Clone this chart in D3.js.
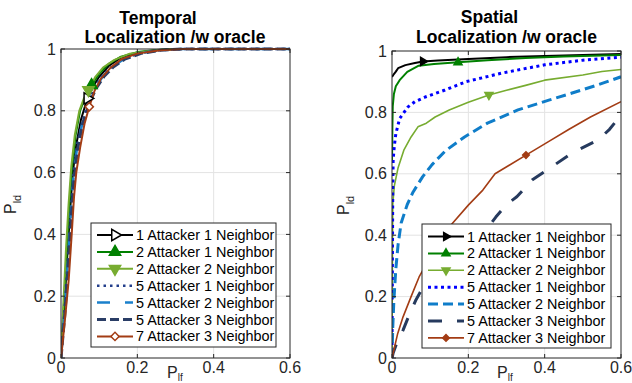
<!DOCTYPE html>
<html>
<head>
<meta charset="utf-8">
<script src="https://cdn.jsdelivr.net/npm/d3@7"></script>
<style>
  body { margin: 0; background: #fff; }
  svg { font-family: "Liberation Sans", Arial, sans-serif; }
</style>
</head>
<body>
<svg id="chart" width="632" height="383"></svg>
<script>
// ---- data ----
var xTicks = [0, 0.2, 0.4, 0.6];
var yTicks = [0, 0.2, 0.4, 0.6, 0.8, 1];
var yTickLabels = ["0", "0.2", "0.4", "0.6", "0.8", "1"];
var legendLabels = ["1 Attacker 1 Neighbor", "2 Attacker 1 Neighbor", "2 Attacker 2 Neighbor",
    "5 Attacker 1 Neighbor", "5 Attacker 2 Neighbor", "5 Attacker 3 Neighbor", "7 Attacker 3 Neighbor"];

// Temporal localization
var tempA1N1 = [[0,0],[0.008,0.15],[0.016,0.32],[0.024,0.48],[0.031,0.6],[0.04,0.69],[0.052,0.77],[0.069,0.84],[0.085,0.88],[0.1,0.91],[0.125,0.945],[0.155,0.97],[0.2,0.988],[0.25,0.996],[0.3,1],[0.6,1]];
var tempA2N1 = [[0,0],[0.007,0.16],[0.015,0.34],[0.022,0.5],[0.029,0.62],[0.038,0.72],[0.05,0.8],[0.065,0.85],[0.08,0.883],[0.1,0.92],[0.125,0.952],[0.155,0.974],[0.2,0.99],[0.25,0.997],[0.3,1],[0.6,1]];
var tempA2N2 = [[0,0],[0.006,0.17],[0.013,0.35],[0.02,0.5],[0.027,0.62],[0.036,0.72],[0.048,0.8],[0.06,0.84],[0.072,0.867],[0.09,0.91],[0.11,0.94],[0.14,0.965],[0.18,0.985],[0.25,0.997],[0.3,1],[0.6,1]];
var tempA5N1 = [[0,0],[0.009,0.15],[0.018,0.32],[0.026,0.48],[0.033,0.6],[0.042,0.69],[0.055,0.76],[0.072,0.83],[0.09,0.88],[0.11,0.915],[0.135,0.945],[0.165,0.97],[0.21,0.988],[0.26,0.996],[0.32,1],[0.6,1]];
var tempA5N2 = [[0,0],[0.009,0.14],[0.018,0.31],[0.026,0.47],[0.033,0.59],[0.043,0.69],[0.056,0.76],[0.073,0.83],[0.09,0.875],[0.11,0.912],[0.135,0.943],[0.165,0.968],[0.21,0.987],[0.26,0.996],[0.32,1],[0.6,1]];
var tempA5N3 = [[0,0],[0.01,0.14],[0.019,0.3],[0.027,0.46],[0.034,0.58],[0.044,0.68],[0.057,0.76],[0.074,0.825],[0.092,0.872],[0.112,0.91],[0.137,0.942],[0.167,0.967],[0.21,0.986],[0.26,0.996],[0.32,1],[0.6,1]];
var tempA7N3 = [[0,0],[0.01,0.12],[0.02,0.25],[0.028,0.4],[0.034,0.52],[0.04,0.6],[0.05,0.68],[0.062,0.76],[0.074,0.813],[0.088,0.865],[0.105,0.905],[0.13,0.94],[0.16,0.968],[0.2,0.985],[0.26,0.996],[0.32,1],[0.6,1]];
var tempMarkers = [[0.069,0.84],[0.08,0.883],[0.072,0.867],null,null,null,[0.074,0.813]];

// Spatial localization
var spatA1N1 = [[0,0.915],[0.005,0.925],[0.01,0.933],[0.016,0.944],[0.035,0.954],[0.06,0.961],[0.081,0.966],[0.12,0.969],[0.2,0.974],[0.3,0.98],[0.4,0.984],[0.5,0.987],[0.6,0.99]];
var spatA2N1 = [[0,0.635],[0.001,0.75],[0.002,0.82],[0.005,0.86],[0.01,0.885],[0.02,0.905],[0.04,0.932],[0.07,0.952],[0.11,0.958],[0.173,0.963],[0.25,0.97],[0.35,0.977],[0.45,0.982],[0.6,0.987]];
var spatA2N2 = [[0,0],[0.001,0.3],[0.002,0.5],[0.006,0.56],[0.016,0.62],[0.031,0.677],[0.05,0.72],[0.068,0.753],[0.09,0.765],[0.113,0.785],[0.15,0.808],[0.2,0.833],[0.254,0.857],[0.3,0.872],[0.35,0.888],[0.4,0.905],[0.5,0.922],[0.55,0.933],[0.6,0.94]];
var spatA5N1 = [[0,0],[0.001,0.3],[0.002,0.55],[0.003,0.645],[0.006,0.69],[0.01,0.73],[0.02,0.78],[0.042,0.818],[0.06,0.835],[0.089,0.851],[0.139,0.873],[0.194,0.9],[0.288,0.928],[0.4,0.955],[0.5,0.97],[0.6,0.98]];
var spatA5N2 = [[0,0],[0.002,0.1],[0.005,0.19],[0.01,0.29],[0.016,0.37],[0.024,0.44],[0.04,0.5],[0.055,0.54],[0.08,0.59],[0.105,0.63],[0.14,0.675],[0.19,0.72],[0.25,0.765],[0.33,0.808],[0.411,0.84],[0.472,0.863],[0.54,0.89],[0.6,0.916]];
var spatA5N3 = [[0,0],[0.003,0.016],[0.01,0.04],[0.029,0.091],[0.045,0.14],[0.063,0.19],[0.09,0.25],[0.13,0.28],[0.186,0.329],[0.23,0.39],[0.272,0.459],[0.3,0.5],[0.327,0.525],[0.367,0.58],[0.419,0.623],[0.472,0.668],[0.54,0.71],[0.57,0.745],[0.6,0.791]];
var spatA7N3 = [[0,0],[0.003,0.016],[0.015,0.08],[0.029,0.134],[0.05,0.2],[0.071,0.264],[0.11,0.35],[0.15,0.427],[0.2,0.498],[0.238,0.547],[0.27,0.6],[0.351,0.661],[0.41,0.705],[0.464,0.745],[0.52,0.785],[0.6,0.835]];
var spatMarkers = [[0.081,0.966],[0.173,0.963],[0.254,0.857],null,null,null,[0.351,0.661]];

// ---- styles ----
var temporalStyle = [
    {color: "#000000", width: 2, dash: null, marker: "right", fill: "#ffffff", size: 55},
    {color: "#008000", width: 2, dash: null, marker: "up", fill: "#008000", size: 55},
    {color: "#77ac30", width: 2, dash: null, marker: "down", fill: "#77ac30", size: 55},
    {color: "#233e8b", width: 2.5, dash: "2.5,4", marker: null},
    {color: "#1a80cc", width: 2.5, dash: "13,15", marker: null},
    {color: "#2a3d66", width: 3, dash: "9,4", marker: null},
    {color: "#a33c14", width: 2, dash: null, marker: "diamond", fill: "#ffffff", size: 34}
];
var spatialStyle = [
    {color: "#000000", width: 2, dash: null, marker: "right", fill: "#000000", size: 28},
    {color: "#008000", width: 2, dash: null, marker: "up", fill: "#008000", size: 28},
    {color: "#77ac30", width: 1.6, dash: null, marker: "down", fill: "#77ac30", size: 28},
    {color: "#0000ff", width: 3, dash: "3,3.5", marker: null},
    {color: "#0f7dc9", width: 3, dash: "10,5", marker: null},
    {color: "#263a5e", width: 3, dash: "14,15", marker: null},
    {color: "#a33c14", width: 1.6, dash: null, marker: "diamond", fill: "#a33c14", size: 22}
];

var svg = d3.select("#chart");
var axisColor = "#262626";

function markerPath(type, size) {
    if (type === "diamond") return d3.symbol(d3.symbolSquare, size)();
    return d3.symbol(d3.symbolTriangle, size)();
}
function markerRot(type) {
    return {right: 90, up: 0, down: 180, diamond: 45}[type];
}

function drawPanel(cfg) {
    var x = d3.scaleLinear().domain([0, 0.6]).range([cfg.left, cfg.right]);
    var y = d3.scaleLinear().domain([0, 1]).range([cfg.bottom, cfg.top]);
    var g = svg.append("g");

    // grid
    g.append("g").selectAll("line").data(xTicks.slice(1, -1)).enter().append("line")
        .attr("x1", function (d) { return x(d); }).attr("x2", function (d) { return x(d); })
        .attr("y1", cfg.top).attr("y2", cfg.bottom)
        .attr("stroke", "#e3e3e3").attr("stroke-width", 1);
    g.append("g").selectAll("line").data(yTicks.slice(1, -1)).enter().append("line")
        .attr("y1", function (d) { return y(d); }).attr("y2", function (d) { return y(d); })
        .attr("x1", cfg.left).attr("x2", cfg.right)
        .attr("stroke", "#e3e3e3").attr("stroke-width", 1);

    // curves
    var clipId = "clip" + cfg.id;
    svg.append("clipPath").attr("id", clipId).append("rect")
        .attr("x", cfg.left).attr("y", cfg.top - 2)
        .attr("width", cfg.right - cfg.left).attr("height", cfg.bottom - cfg.top + 2);
    var line = d3.line().x(function (d) { return x(d[0]); }).y(function (d) { return y(d[1]); });
    var curves = g.append("g").attr("clip-path", "url(#" + clipId + ")");
    cfg.series.forEach(function (s, i) {
        var st = cfg.style[i];
        curves.append("path").datum(s)
            .attr("d", line)
            .attr("fill", "none")
            .attr("stroke", st.color)
            .attr("stroke-width", st.width)
            .attr("stroke-dasharray", st.dash)
            .attr("stroke-linejoin", "round");
    });
    cfg.markers.forEach(function (m, i) {
        var st = cfg.style[i];
        if (!m || !st.marker) return;
        g.append("path")
            .attr("d", markerPath(st.marker, st.size))
            .attr("transform", "translate(" + x(m[0]) + "," + y(m[1]) + ") rotate(" + markerRot(st.marker) + ")")
            .attr("fill", st.fill).attr("stroke", st.color).attr("stroke-width", 1.5);
    });

    // axes box + inward ticks
    g.append("rect").attr("x", cfg.left).attr("y", cfg.top)
        .attr("width", cfg.right - cfg.left).attr("height", cfg.bottom - cfg.top)
        .attr("fill", "none").attr("stroke", axisColor).attr("stroke-width", 1);
    var tl = 4;
    xTicks.forEach(function (t) {
        g.append("line").attr("x1", x(t)).attr("x2", x(t)).attr("y1", cfg.bottom).attr("y2", cfg.bottom - tl).attr("stroke", axisColor);
        g.append("line").attr("x1", x(t)).attr("x2", x(t)).attr("y1", cfg.top).attr("y2", cfg.top + tl).attr("stroke", axisColor);
    });
    yTicks.forEach(function (t) {
        g.append("line").attr("y1", y(t)).attr("y2", y(t)).attr("x1", cfg.left).attr("x2", cfg.left + tl).attr("stroke", axisColor);
        g.append("line").attr("y1", y(t)).attr("y2", y(t)).attr("x1", cfg.right).attr("x2", cfg.right - tl).attr("stroke", axisColor);
    });

    // tick labels
    g.append("g").selectAll("text").data(xTicks).enter().append("text")
        .attr("x", function (d) { return x(d); }).attr("y", cfg.bottom + 15)
        .attr("text-anchor", "middle").attr("font-size", 16).attr("fill", axisColor)
        .text(function (d) { return d3.format("")(d); });
    g.append("g").selectAll("text").data(yTicks).enter().append("text")
        .attr("x", cfg.left - 5).attr("y", function (d) { return y(d); })
        .attr("dy", "0.35em")
        .attr("text-anchor", "end").attr("font-size", 16).attr("fill", axisColor)
        .text(function (d, i) { return yTickLabels[i]; });

    // axis labels
    var xl = g.append("text").attr("x", cfg.xLabelX).attr("y", 378)
        .attr("font-size", 16).attr("fill", axisColor).text("P");
    xl.append("tspan").attr("font-size", 10).attr("dy", 3).text("lf");
    var yl = g.append("text")
        .attr("transform", "translate(" + cfg.yLabelX + "," + cfg.yLabelY + ") rotate(-90)")
        .attr("font-size", 16).attr("fill", axisColor).text("P");
    yl.append("tspan").attr("font-size", 11).attr("dy", 5).text("ld");

    // title
    cfg.title.forEach(function (t) {
        g.append("text").attr("x", t.x).attr("y", t.y)
            .attr("text-anchor", "middle").attr("font-size", 17.5).attr("font-weight", "bold")
            .attr("fill", "#000").text(t.text);
    });

    // legend
    var lg = g.append("g");
    lg.append("rect").attr("x", cfg.legend.x).attr("y", cfg.legend.y)
        .attr("width", cfg.legend.w).attr("height", cfg.legend.h)
        .attr("fill", "#fff").attr("stroke", axisColor).attr("stroke-width", 1);
    legendLabels.forEach(function (lab, i) {
        var st = cfg.style[i];
        var ry = cfg.legend.y + cfg.legend.first + i * cfg.legend.step;
        var lx0 = cfg.legend.x + 6, lx1 = cfg.legend.x + 42;
        lg.append("line").attr("x1", lx0).attr("x2", lx1).attr("y1", ry).attr("y2", ry)
            .attr("stroke", st.color).attr("stroke-width", st.width)
            .attr("stroke-dasharray", st.dash);
        if (st.marker) {
            lg.append("path").attr("d", markerPath(st.marker, st.size))
                .attr("transform", "translate(" + ((lx0 + lx1) / 2) + "," + ry + ") rotate(" + markerRot(st.marker) + ")")
                .attr("fill", st.fill).attr("stroke", st.color).attr("stroke-width", 1.5);
        }
        lg.append("text").attr("x", lx1 + 3).attr("y", ry).attr("dy", "0.35em")
            .attr("font-size", 14.4).attr("fill", "#000").text(lab);
    });
}

drawPanel({
    id: "t", left: 61, right: 290, top: 49, bottom: 358,
    series: [tempA1N1, tempA2N1, tempA2N2, tempA5N1, tempA5N2, tempA5N3, tempA7N3],
    markers: tempMarkers, style: temporalStyle,
    title: [{text: "Temporal", x: 158, y: 23.5}, {text: "Localization /w oracle", x: 175, y: 42.5}],
    xLabelX: 167, yLabelX: 16, yLabelY: 214,
    legend: {x: 91, y: 223, w: 185, h: 124, first: 12, step: 16.9}
});
drawPanel({
    id: "s", left: 392, right: 621, top: 51, bottom: 358,
    series: [spatA1N1, spatA2N1, spatA2N2, spatA5N1, spatA5N2, spatA5N3, spatA7N3],
    markers: spatMarkers, style: spatialStyle,
    title: [{text: "Spatial", x: 489.5, y: 22.5}, {text: "Localization /w oracle", x: 506.5, y: 43}],
    xLabelX: 497, yLabelX: 349, yLabelY: 215,
    legend: {x: 422, y: 224, w: 189, h: 124, first: 12.5, step: 16.9}
});
</script>
</body>
</html>
